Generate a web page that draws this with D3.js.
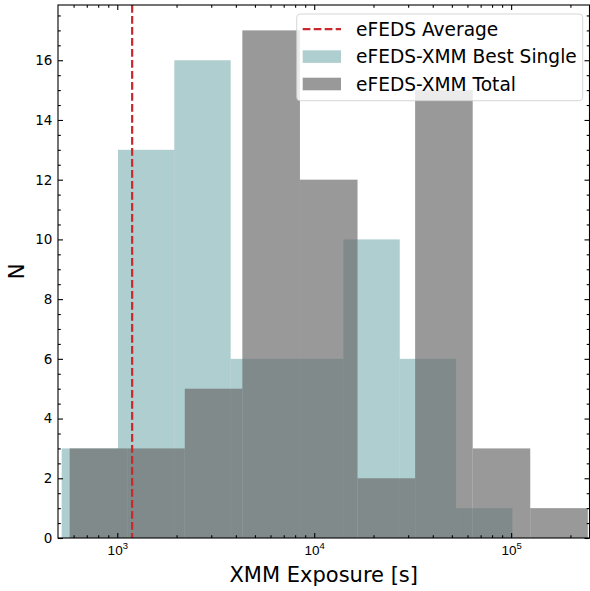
<!DOCTYPE html>
<html>
<head>
<meta charset="utf-8">
<script src="https://cdn.jsdelivr.net/npm/d3@7"></script>
<style>
  html, body { margin: 0; padding: 0; background: #fff; }
  svg { display: block; font-family: "DejaVu Sans", sans-serif; }
</style>
</head>
<body>
<svg id="chart" width="590" height="591"></svg>
<script>
// ---- data ----
const bestSingleEdges = [522, 1008, 1948, 3765, 7276, 14066, 27187, 52540, 101530];
const bestSingleCounts = [3, 13, 16, 6, 6, 10, 6, 1];
const totalEdges = [573, 1123, 2202, 4316, 8464, 16596, 32540, 63800, 125030, 245150];
const totalCounts = [3, 3, 5, 17, 12, 2, 15, 3, 1];
const efedsAverage = 1190;
const xMajorTicks = [1000, 10000, 100000];
const xMajorExponents = ["3", "4", "5"];
const xMinorTicks = [600, 700, 800, 900, 2000, 3000, 4000, 5000, 6000, 7000, 8000, 9000,
  20000, 30000, 40000, 50000, 60000, 70000, 80000, 90000, 200000];
const yMajorTicks = [0, 2, 4, 6, 8, 10, 12, 14, 16];
const yMinorTicks = [0.5, 1, 1.5, 2.5, 3, 3.5, 4.5, 5, 5.5, 6.5, 7, 7.5, 8.5, 9, 9.5,
  10.5, 11, 11.5, 12.5, 13, 13.5, 14.5, 15, 15.5, 16.5, 17, 17.5];
const xDomain = [500, 250000];
const yDomain = [0, 17.85];
const legendLabels = ["eFEDS Average", "eFEDS-XMM Best Single", "eFEDS-XMM Total"];

// ---- layout ----
const L = 58, R = 589.5, T = 5, B = 538;
const svg = d3.select("#chart");
const x = d3.scaleLog().domain(xDomain).range([L, R]);
const y = d3.scaleLinear().domain(yDomain).range([B, T]);

const tealColor = "cadetblue", tealOpacity = 0.5;
const grayColor = "#6d6d6d", grayOpacity = 0.7;
const redColor = "#c9282d";

const clip = svg.append("clipPath").attr("id", "clip")
  .append("rect").attr("x", L).attr("y", T).attr("width", R - L).attr("height", B - T);
const plot = svg.append("g").attr("clip-path", "url(#clip)");

function drawHist(edges, counts, color, opacity) {
  plot.append("g").selectAll("rect").data(counts).join("rect")
    .attr("x", (d, i) => x(edges[i]))
    .attr("width", (d, i) => x(edges[i + 1]) - x(edges[i]))
    .attr("y", d => y(d))
    .attr("height", d => y(0) - y(d))
    .attr("fill", color)
    .attr("fill-opacity", opacity);
}
drawHist(bestSingleEdges, bestSingleCounts, tealColor, tealOpacity);
drawHist(totalEdges, totalCounts, grayColor, grayOpacity);

plot.append("line")
  .attr("x1", x(efedsAverage)).attr("x2", x(efedsAverage))
  .attr("y1", T).attr("y2", B)
  .attr("stroke", redColor).attr("stroke-width", 2.2)
  .attr("stroke-dasharray", "7.7,3.3");

// ---- axes ----
function styleAxis(g) {
  g.select(".domain").remove();
  g.selectAll(".tick line").attr("stroke", "#000").attr("stroke-width", 1.1);
}
const MAJ = 5, MIN = 2.8;

// bottom
const gB = svg.append("g").attr("transform", `translate(0,${B})`)
  .call(d3.axisBottom(x).tickValues(xMajorTicks).tickSizeInner(-MAJ).tickSizeOuter(0).tickFormat(() => ""));
styleAxis(gB);
gB.selectAll(".tick text").remove();
gB.selectAll(".tick").append("text")
  .attr("y", 16.5).attr("text-anchor", "middle")
  .attr("fill", "#000").attr("font-size", 13.5)
  .each(function (d, i) {
    const t = d3.select(this);
    t.append("tspan").text("10");
    t.append("tspan").attr("dy", -5.5).attr("font-size", 9.5).text(xMajorExponents[i]);
  });
svg.append("g").attr("transform", `translate(0,${B})`)
  .call(d3.axisBottom(x).tickValues(xMinorTicks).tickSizeInner(-MIN).tickSizeOuter(0).tickFormat(() => ""))
  .call(styleAxis);

// top
svg.append("g").attr("transform", `translate(0,${T})`)
  .call(d3.axisTop(x).tickValues(xMajorTicks).tickSizeInner(-MAJ).tickSizeOuter(0).tickFormat(() => ""))
  .call(styleAxis);
svg.append("g").attr("transform", `translate(0,${T})`)
  .call(d3.axisTop(x).tickValues(xMinorTicks).tickSizeInner(-MIN).tickSizeOuter(0).tickFormat(() => ""))
  .call(styleAxis);

// left
const gL = svg.append("g").attr("transform", `translate(${L},0)`)
  .call(d3.axisLeft(y).tickValues(yMajorTicks).tickSizeInner(-MAJ).tickSizeOuter(0).tickPadding(5.7).tickFormat(d3.format("d")));
styleAxis(gL);
gL.selectAll(".tick text").attr("font-size", 13.5).attr("fill", "#000").attr("font-family", "DejaVu Sans");
svg.append("g").attr("transform", `translate(${L},0)`)
  .call(d3.axisLeft(y).tickValues(yMinorTicks).tickSizeInner(-MIN).tickSizeOuter(0).tickFormat(() => ""))
  .call(styleAxis);

// right
svg.append("g").attr("transform", `translate(${R},0)`)
  .call(d3.axisRight(y).tickValues(yMajorTicks).tickSizeInner(-MAJ).tickSizeOuter(0).tickFormat(() => ""))
  .call(styleAxis);
svg.append("g").attr("transform", `translate(${R},0)`)
  .call(d3.axisRight(y).tickValues(yMinorTicks).tickSizeInner(-MIN).tickSizeOuter(0).tickFormat(() => ""))
  .call(styleAxis);

// frame
svg.append("rect").attr("x", L).attr("y", T).attr("width", R - L).attr("height", B - T)
  .attr("fill", "none").attr("stroke", "#000").attr("stroke-width", 1.1);

// axis labels
svg.append("text").attr("x", (L + R) / 2).attr("y", 581.5)
  .attr("text-anchor", "middle").attr("font-size", 21).attr("fill", "#000")
  .text("XMM Exposure [s]");
svg.append("text").attr("transform", `translate(24.3,${(T + B) / 2}) rotate(-90)`)
  .attr("text-anchor", "middle").attr("font-size", 21).attr("fill", "#000")
  .text("N");

// ---- legend ----
const lg = svg.append("g");
lg.append("rect").attr("x", 296.7).attr("y", 14).attr("width", 286).attr("height", 86.7)
  .attr("rx", 3.5).attr("fill", "#fff").attr("fill-opacity", 0.8)
  .attr("stroke", "#cccccc").attr("stroke-opacity", 0.8).attr("stroke-width", 1);
const rowY = [29.2, 56.6, 84.0];
const hx0 = 302.7, hx1 = 341, tx = 356;
lg.append("line").attr("x1", hx0).attr("x2", hx1).attr("y1", rowY[0]).attr("y2", rowY[0])
  .attr("stroke", redColor).attr("stroke-width", 2.2).attr("stroke-dasharray", "7.7,3.3");
lg.append("rect").attr("x", hx0).attr("y", rowY[1] - 6.3).attr("width", hx1 - hx0).attr("height", 12.6)
  .attr("fill", tealColor).attr("fill-opacity", tealOpacity);
lg.append("rect").attr("x", hx0).attr("y", rowY[2] - 6.3).attr("width", hx1 - hx0).attr("height", 12.6)
  .attr("fill", grayColor).attr("fill-opacity", grayOpacity);
lg.selectAll("text.lab").data(legendLabels).join("text").attr("class", "lab")
  .attr("x", tx).attr("y", (d, i) => rowY[i] + 6.6)
  .attr("font-size", 18.6).attr("fill", "#000")
  .text(d => d);
</script>
</body>
</html>
